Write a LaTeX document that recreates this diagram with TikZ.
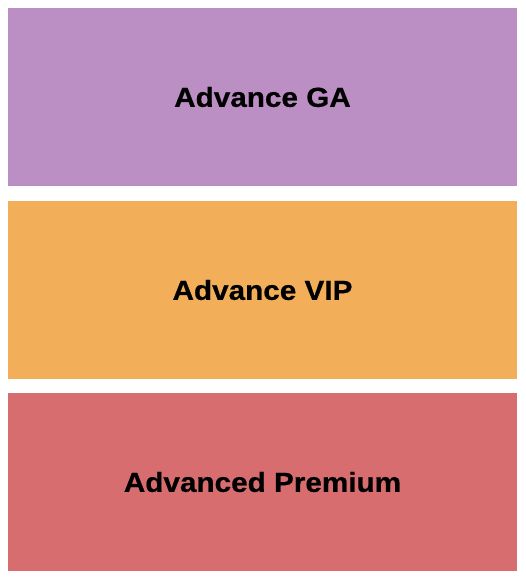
\documentclass[tikz,border=0pt]{standalone}
\usepackage{fontspec}
\newfontfamily\labfont[FakeStretch=1.08,FakeBold=0.6]{Liberation Sans}
\definecolor{gaColor}{HTML}{BB8FC3}
\definecolor{vipColor}{HTML}{F3AE5A}
\definecolor{premColor}{HTML}{D76D6E}
\begin{document}
\begin{tikzpicture}[x=1pt,y=-1pt,
  section/.style={draw=none,minimum width=509pt,minimum height=178pt,inner sep=0pt,
    font=\labfont\bfseries\fontsize{27.5}{30}\selectfont,text=black}]
\useasboundingbox (0,0) rectangle (525,580);
\node[section,fill=gaColor] (ga) at (262.5,97) {Advance GA};
\node[section,fill=vipColor] (vip) at (262.5,290) {Advance VIP};
\node[section,fill=premColor] (prem) at (262.5,482) {Advanced Premium};
\end{tikzpicture}
\end{document}
